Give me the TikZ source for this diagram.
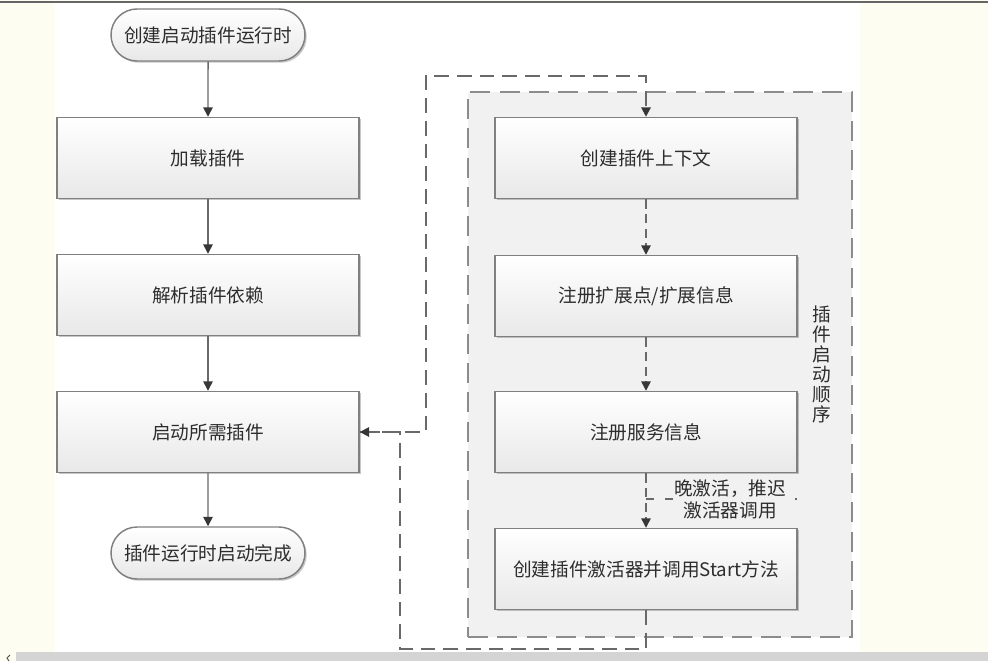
\documentclass[tikz,border=0pt]{standalone}
\usepackage{fontspec}
\setmainfont{Noto Sans CJK SC}
\usetikzlibrary{arrows.meta,shapes.misc,shadows}
\definecolor{cream}{RGB}{253,253,242}
\definecolor{boxline}{RGB}{128,128,128}
\definecolor{boxbot}{RGB}{232,232,232}
\definecolor{txt}{RGB}{45,45,45}
\definecolor{lin}{RGB}{105,105,105}
\definecolor{arr}{RGB}{55,55,55}
\definecolor{grpline}{RGB}{140,140,140}
\definecolor{grpfill}{RGB}{241,241,241}
\definecolor{barcol}{RGB}{212,212,212}
\begin{document}
\begin{tikzpicture}[x=0.75pt,y=-0.75pt,
  font=\fontsize{14}{16}\selectfont,
  procbox/.style={rectangle, draw=boxline, line width=1.1pt, top color=white, bottom color=boxbot,
    drop shadow={shadow xshift=1.3pt, shadow yshift=-1.3pt, opacity=0.22, fill=black},
    minimum width=226.5pt, minimum height=60.75pt, text=txt, inner sep=0pt},
  termbox/.style={rounded rectangle, draw=boxline, line width=1.1pt, top color=white, bottom color=boxbot,
    drop shadow={shadow xshift=1.3pt, shadow yshift=-1.3pt, opacity=0.22, fill=black},
    minimum width=145.5pt, minimum height=39pt, text=txt, inner sep=0pt},
  flow/.style={draw=lin, line width=1.1pt, -{Triangle[width=7pt,length=7pt,color=arr]}},
  dflow/.style={flow, dash pattern=on 7pt off 4pt},
  loopline/.style={draw=lin, line width=1.4pt, dash pattern=on 11pt off 6pt},
  grpbox/.style={rectangle, draw=grpline, line width=1.5pt, dash pattern=on 15pt off 7pt, fill=grpfill,
    minimum width=288pt, minimum height=408.75pt, inner sep=0pt},
  lbl/.style={text=txt, align=center, inner sep=0.5pt}
]
% page background
\useasboundingbox (0,0) rectangle (988,661);
\fill[cream] (0,0) rectangle (988,661);
\fill[white] (55,3) rectangle (860,652);
\draw[draw=black!60, line width=0.8pt] (0,2) -- (988,2);
\fill[barcol] (16,652) rectangle (988,661);
\draw[black!70, line width=0.7pt] (10,655) -- (7,658) -- (9,661);

% left column
\node[termbox] (start) at (208,35) {创建启动插件运行时};
\node[procbox] (load) at (208,158) {加载插件};
\node[procbox] (parse) at (208,295) {解析插件依赖};
\node[procbox] (launch) at (208,432) {启动所需插件};
\node[termbox] (done) at (208,553) {插件运行时启动完成};

\draw[flow] (start) -- (load);
\draw[flow] (load) -- (parse);
\draw[flow] (parse) -- (launch);
\draw[flow] (launch) -- (done);

% group
\node[grpbox] (grp) at (660,364.5) {};
\node[lbl, font=\fontsize{14}{15}\selectfont] (seq) at (822,364) {插\\件\\启\\动\\顺\\序};

% right column
\node[procbox] (ctx) at (646,158) {创建插件上下文};
\node[procbox] (ext) at (646,296) {注册扩展点/扩展信息};
\node[procbox] (svc) at (646,432) {注册服务信息};
\node[procbox] (act) at (646,569) {创建插件激活器并调用Start方法};

\draw[dflow] (ctx) -- (ext);
\draw[dflow] (ext) -- (svc);
\draw[dflow] (svc) -- (act);

% label on svc -> act
\coordinate (lbll) at (646,499);
\coordinate (lblr) at (797,499);
\draw[lin, line width=1pt, dash pattern=on 6pt off 8pt] (lbll) -- (lblr);
\node[lbl, fill=grpfill, font=\fontsize{14}{16.5}\selectfont] (late) at (730,499) {晚激活，推迟\\激活器调用};

% loop connectors
\coordinate (lu) at (426,76);
\coordinate (ld) at (400,649);
\draw[loopline, -{Triangle[width=7pt,length=7pt,color=arr]}] (launch.east) -| (lu) -| (ctx.north);
\draw[loopline, -{Triangle[width=7pt,length=7pt,color=arr]}] (act.south) |- (ld) |- (launch.east);
\end{tikzpicture}
\end{document}
